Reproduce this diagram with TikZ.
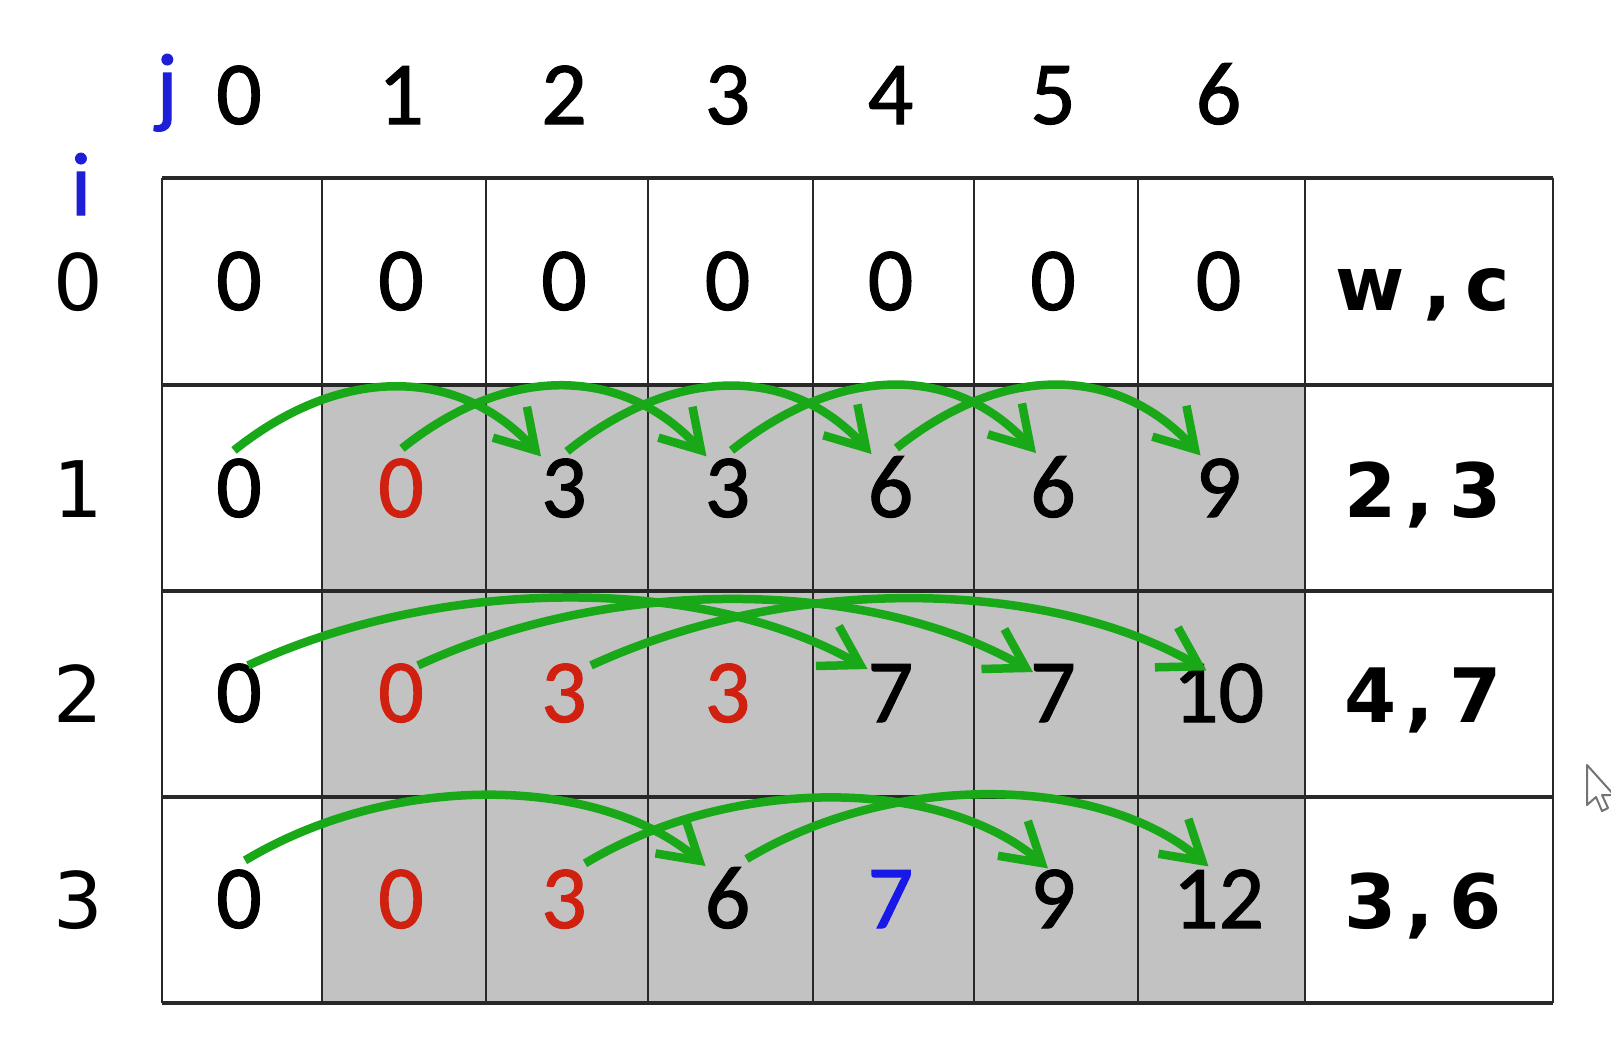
\documentclass[tikz,border=0pt]{standalone}
\usepackage{fontspec}
\setmainfont{Carlito}[FakeBold=1.2]
\newfontfamily\labfont{DejaVu Sans}
\newfontfamily\wcfont{DejaVu Sans Bold}
\usetikzlibrary{arrows.meta}
\definecolor{cellgray}{RGB}{194,194,194}
\definecolor{arcgreen}{RGB}{24,168,24}
\definecolor{valred}{RGB}{208,32,16}
\definecolor{valblue}{RGB}{24,24,232}
\definecolor{idxblue}{RGB}{30,30,215}
\definecolor{gridline}{RGB}{40,40,40}
\newcommand\wcpair[4]{#1\hspace{#3},\hspace{#4}#2}
\begin{document}
\begin{tikzpicture}[x=1pt,y=-1pt,
  val/.style={font=\fontsize{90}{100}\selectfont, inner sep=0pt, anchor=base},
  lab/.style={font=\labfont\fontsize{78}{90}\selectfont, inner sep=0pt, anchor=base},
  wclab/.style={font=\wcfont\fontsize{75}{90}\selectfont, inner sep=0pt, anchor=base},
  idx/.style={font=\fontsize{90}{100}\selectfont, inner sep=0pt, anchor=base, text=idxblue},
  redval/.style={text=valred},
  blueval/.style={text=valblue},
  gridh/.style={draw=gridline, line width=3.2pt},
  gridv/.style={draw=gridline, line width=2.6pt},
  arc/.style={draw=arcgreen, line width=8.5pt, -{Straight Barb[length=38pt,width=46pt]}},
  cursorshape/.style={draw=black!55, fill=white, line width=2pt, line join=round}]
\clip (0,0) rectangle (1611,1036);
\fill[white] (0,0) rectangle (1611,1036);
% gray region
\fill[cellgray] (322,385) rectangle (1305,1003);
% grid
\foreach \yy in {178,385,591,797,1003} \draw[gridh] (162,\yy) -- (1553,\yy);
\foreach \xx in {162,322,486,648,813,974,1138,1305,1553} \draw[gridv] (\xx,178) -- (\xx,1003);
% index letters
\node[idx] (jl) at (167,116) {j};
\node[idx] (il) at (81,215) {i};
% column headers
\node[val] (h0) at (239,124) {0};
\node[val] (h1) at (401,124) {1};
\node[val] (h2) at (564,124) {2};
\node[val] (h3) at (727.5,124) {3};
\node[val] (h4) at (890.5,124) {4};
\node[val] (h5) at (1053,124) {5};
\node[val] (h6) at (1218.5,124) {6};
% row labels
\node[lab] (r0) at (78,310) {0};
\node[lab] (r1) at (78,517) {1};
\node[lab] (r2) at (78,722) {2};
\node[lab] (r3) at (78,928) {3};
% row 0
\node[val] (c00) at (239,310) {0};
\node[val] (c01) at (401,310) {0};
\node[val] (c02) at (564,310) {0};
\node[val] (c03) at (727.5,310) {0};
\node[val] (c04) at (890.5,310) {0};
\node[val] (c05) at (1053,310) {0};
\node[val] (c06) at (1218.5,310) {0};
\node[wclab] (wc0) at (1423,310) {\wcpair{w}{c}{18pt}{14pt}};
% row 1
\node[val] (c10) at (239,517) {0};
\node[val,redval] (c11) at (401,517) {0};
\node[val] (c12) at (564,517) {3};
\node[val] (c13) at (727.5,517) {3};
\node[val] (c14) at (890.5,517) {6};
\node[val] (c15) at (1053,517) {6};
\node[val] (c16) at (1218.5,517) {9};
\node[wclab] (wc1) at (1423,517) {\wcpair{2}{3}{9pt}{16pt}};
% row 2
\node[val] (c20) at (239,722) {0};
\node[val,redval] (c21) at (401,722) {0};
\node[val,redval] (c22) at (564,722) {3};
\node[val,redval] (c23) at (727.5,722) {3};
\node[val] (c24) at (890.5,722) {7};
\node[val] (c25) at (1053,722) {7};
\node[val] (c26) at (1218.5,722) {10};
\node[wclab] (wc2) at (1423,722) {\wcpair{4}{7}{9pt}{16pt}};
% row 3
\node[val] (c30) at (239,928) {0};
\node[val,redval] (c31) at (401,928) {0};
\node[val,redval] (c32) at (564,928) {3};
\node[val] (c33) at (727.5,928) {6};
\node[val,blueval] (c34) at (890.5,928) {7};
\node[val] (c35) at (1053,928) {9};
\node[val] (c36) at (1218.5,928) {12};
\node[wclab] (wc3) at (1423,928) {\wcpair{3}{6}{9pt}{16pt}};
% arcs row 1
\draw[arc] ([shift={(-5,-8)}]c10.north) .. controls +(110,-88) and +(-80,-88) .. ([shift={(-23,-2)}]c12.north);
\draw[arc] ([shift={(1,-10)}]c11.north) .. controls +(110,-88) and +(-80,-88) .. ([shift={(-21,-2)}]c13.north);
\draw[arc] ([shift={(3,-7)}]c12.north) .. controls +(110,-88) and +(-80,-88) .. ([shift={(-19,-2)}]c14.north);
\draw[arc] ([shift={(4,-8)}]c13.north) .. controls +(110,-88) and +(-80,-88) .. ([shift={(-17,-3)}]c15.north);
\draw[arc] ([shift={(6,-8)}]c14.north) .. controls +(110,-88) and +(-80,-88) .. ([shift={(-18,-3)}]c16.north);
% arcs row 2
\draw[arc] ([shift={(9,2)}]c20.north) .. controls +(200,-92) and +(-160,-92) .. ([shift={(-23,5)}]c24.north);
\draw[arc] ([shift={(17,2)}]c21.north) .. controls +(200,-92) and +(-160,-92) .. ([shift={(-20,8)}]c25.north);
\draw[arc] ([shift={(27,2)}]c22.north) .. controls +(200,-92) and +(-160,-92) .. ([shift={(-12,7)}]c26.north);
% arcs row 3
\draw[arc] ([shift={(6,-9)}]c30.north) .. controls +(150,-90) and +(-105,-90) .. ([shift={(-22,-1)}]c33.north);
\draw[arc] ([shift={(21,-6)}]c32.north) .. controls +(150,-90) and +(-105,-90) .. ([shift={(-5,-1)}]c35.north);
\draw[arc] ([shift={(19,-8)}]c33.north) .. controls +(150,-90) and +(-105,-90) .. ([shift={(-10,-3)}]c36.north);
% mouse pointer
\draw[cursorshape] (1587,765) -- (1587,805) -- (1596,797) -- (1602,811) -- (1608,808) -- (1602,795) -- (1614,795) -- cycle;
\end{tikzpicture}
\end{document}
